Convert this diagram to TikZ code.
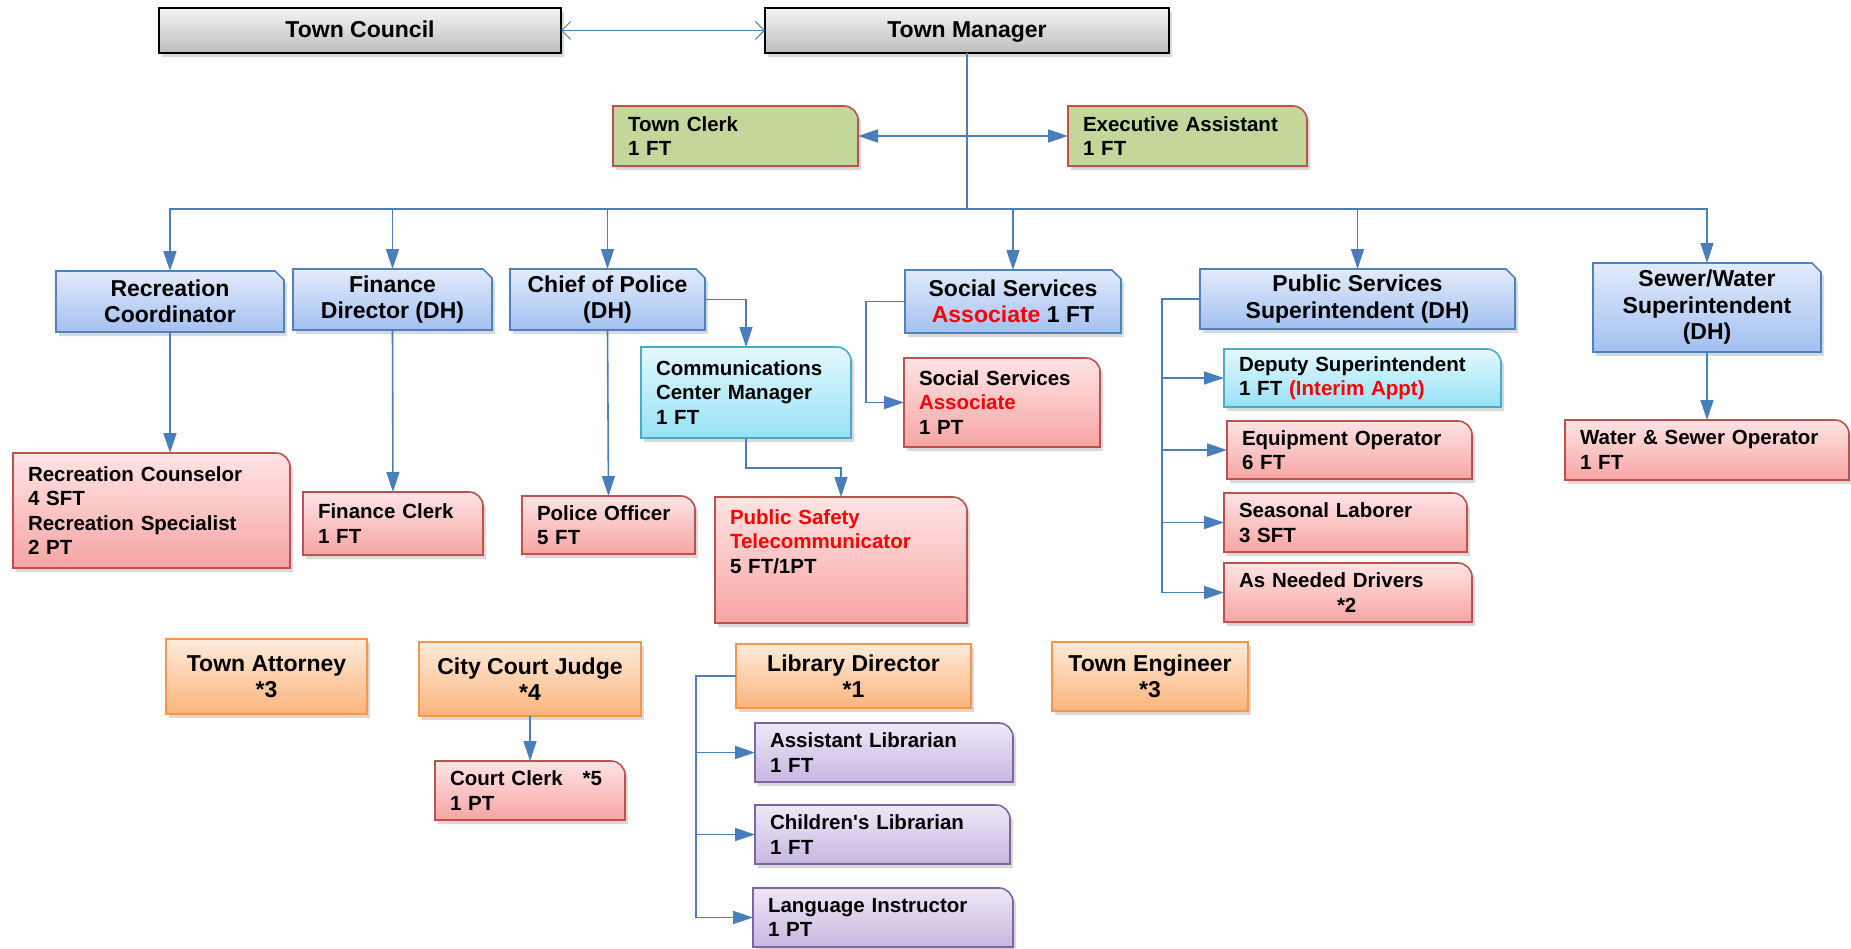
\documentclass[tikz,border=0pt]{standalone}
\usepackage{fontspec}
\setmainfont{Liberation Sans}
\usetikzlibrary{arrows.meta,shadows}
\hyphenpenalty=10000

\definecolor{linkblue}{HTML}{4A7EBB}
\definecolor{headtop}{HTML}{F4F4F4}
\definecolor{headbot}{HTML}{BDBDBD}
\definecolor{deptline}{HTML}{4F81BD}
\definecolor{depttop}{HTML}{E2EBFB}
\definecolor{deptbot}{HTML}{A3C0F1}
\definecolor{staffline}{HTML}{C0504D}
\definecolor{stafftop}{HTML}{FFE4E4}
\definecolor{staffbot}{HTML}{F6A5A4}
\definecolor{leadline}{HTML}{4BACC6}
\definecolor{leadtop}{HTML}{E4F8FD}
\definecolor{leadbot}{HTML}{96E2F6}
\definecolor{aidefill}{HTML}{C4D79B}
\definecolor{advline}{HTML}{F79646}
\definecolor{advtop}{HTML}{FEEBDB}
\definecolor{advbot}{HTML}{FBB47C}
\definecolor{libline}{HTML}{8064A2}
\definecolor{libtop}{HTML}{EEE8F6}
\definecolor{libbot}{HTML}{C7B7E1}

% box with one rounded (or snipped) top right corner
\makeatletter
\pgfdeclareshape{tabbox}{
  \inheritsavedanchors[from=rectangle]
  \inheritanchorborder[from=rectangle]
  \inheritanchor[from=rectangle]{center}
  \inheritanchor[from=rectangle]{north}
  \inheritanchor[from=rectangle]{south}
  \inheritanchor[from=rectangle]{east}
  \inheritanchor[from=rectangle]{west}
  \inheritanchor[from=rectangle]{north east}
  \inheritanchor[from=rectangle]{north west}
  \inheritanchor[from=rectangle]{south east}
  \inheritanchor[from=rectangle]{south west}
  \backgroundpath{
    \southwest \edef\tab@xa{\the\pgf@x}\edef\tab@ya{\the\pgf@y}
    \northeast \edef\tab@xb{\the\pgf@x}\edef\tab@yb{\the\pgf@y}
    \pgfpathmoveto{\pgfpoint{\tab@xa}{\tab@ya}}
    \pgfpathlineto{\pgfpoint{\tab@xa}{\tab@yb}}
    \pgfpathlineto{\pgfpoint{\tab@xb-\tabsize}{\tab@yb}}
    \pgfpathcurveto{\pgfpoint{\tab@xb-\tabsize+\tabbend*\tabsize}{\tab@yb}}
      {\pgfpoint{\tab@xb}{\tab@yb-\tabsize+\tabbend*\tabsize}}
      {\pgfpoint{\tab@xb}{\tab@yb-\tabsize}}
    \pgfpathlineto{\pgfpoint{\tab@xb}{\tab@ya}}
    \pgfpathclose
  }
}
\makeatother
\tikzset{tab size/.store in=\tabsize, tab bend/.store in=\tabbend, tab size=14pt, tab bend=0.552}

\tikzstyle{chartbox}=[outer sep=0pt, line width=1.6pt, drop shadow={shadow xshift=3pt,shadow yshift=-4pt,opacity=0.3}]
\tikzstyle{bigtext}=[font=\bfseries\fontsize{23}{26.5}\selectfont, align=center]
\tikzstyle{smalltext}=[font=\bfseries\fontsize{20.5}{24.5}\selectfont, align=left, inner xsep=15pt, inner ysep=2pt]
\tikzstyle{headbox}=[chartbox, bigtext, rectangle, draw=black, top color=headtop, bottom color=headbot, text height=17pt, text depth=3pt]
\tikzstyle{deptbox}=[chartbox, bigtext, shape=tabbox, tab size=9pt, tab bend=0, draw=deptline, top color=depttop, bottom color=deptbot]
\tikzstyle{staffbox}=[chartbox, smalltext, shape=tabbox, draw=staffline, top color=stafftop, bottom color=staffbot]
\tikzstyle{leadbox}=[chartbox, smalltext, shape=tabbox, draw=leadline, top color=leadtop, bottom color=leadbot]
\tikzstyle{aidebox}=[chartbox, smalltext, shape=tabbox, draw=staffline, fill=aidefill]
\tikzstyle{advisorbox}=[chartbox, bigtext, rectangle, draw=advline, top color=advtop, bottom color=advbot]
\tikzstyle{librarybox}=[chartbox, smalltext, shape=tabbox, draw=libline, top color=libtop, bottom color=libbot]
\tikzstyle{trunk}=[draw=linkblue, line width=1.6pt]
\tikzstyle{link}=[trunk, -{Triangle[length=20pt,width=13pt]}]
\tikzstyle{twoway}=[trunk, {Triangle[length=20pt,width=13pt]}-{Triangle[length=20pt,width=13pt]}]
\tikzstyle{peer}=[draw=linkblue, line width=1pt, {Straight Barb[length=9pt,width=18pt]}-{Straight Barb[length=9pt,width=18pt]}]

\begin{document}
\begin{tikzpicture}[x=1pt,y=-1pt]

    \useasboundingbox (0,0) rectangle (1851,948);

    % council and manager
    \foreach \x/\y/\w/\h/\name/\txt in {159/8/402/45/council/{Town Council}, 765/8/404/45/manager/{Town Manager}}
        \node[headbox, anchor=north west, minimum width=\w, minimum height=\h] (\name) at (\x,\y) {\txt};

    \foreach \x/\y/\w/\h/\name/\txt in {613/106/245/60/clerk/{Town Clerk\\1 FT}, 1068/106/239/60/execasst/{Executive Assistant\\1 FT}}
        {\pgfmathsetmacro\tw{\w-30}
        \node[aidebox, anchor=north west, minimum width=\w, minimum height=\h, text width=\tw pt] (\name) at (\x,\y) {\txt};}

    % departments
    \foreach \x/\y/\w/\h/\name/\txt in {56/271/228/61/reccoord/{Recreation\\Coordinator},
        293/269/199/61/findir/{Finance\\Director (DH)}, 510/269/195/61/police/{Chief of Police\\(DH)},
        905/270/216/63/socsvc/{Social Services\\\textcolor{red}{Associate} 1 FT},
        1200/269/315/60/pubsvc/{Public Services\\Superintendent (DH)},
        1593/263/228/89/sewer/{Sewer/Water\\Superintendent\\(DH)}}
        \node[deptbox, anchor=north west, minimum width=\w, minimum height=\h] (\name) at (\x,\y) {\txt};

    \foreach \x/\y/\w/\h/\name/\txt in {641/347/210/91/comms/{Communications\\Center Manager\\1 FT},
        1224/349/277/58/deputy/{Deputy Superintendent\\1 FT \textcolor{red}{(Interim Appt)}}}
        {\pgfmathsetmacro\tw{\w-30}
        \node[leadbox, anchor=north west, minimum width=\w, minimum height=\h, text width=\tw pt] (\name) at (\x,\y) {\txt};}

    % staff
    \foreach \x/\y/\w/\h/\name/\txt in {13/453/277/115/reccouns/{Recreation Counselor\\4 SFT\\Recreation Specialist\\2 PT},
        303/492/180/63/finclerk/{Finance Clerk\\1 FT}, 522/496/173/58/officer/{Police Officer\\5 FT},
        715/497/252/126/pubsafety/{\textcolor{red}{Public Safety}\\\textcolor{red}{Telecommunicator}\\5 FT/1PT\\[6pt]\strut},
        904/358/196/89/socassoc/{Social Services\\\textcolor{red}{Associate}\\1 PT},
        1227/421/245/58/equip/{Equipment Operator\\6 FT}, 1224/493/243/59/seasonal/{Seasonal Laborer\\3 SFT},
        1224/563/248/59/drivers/{As Needed Drivers\\\hspace*{98pt}*2},
        1565/420/284/60/wsop/{Water \& Sewer Operator\\1 FT},
        435/761/190/59/courtclerk/{Court Clerk\hspace{20pt}*5\\1 PT}}
        {\pgfmathsetmacro\tw{\w-30}
        \node[staffbox, anchor=north west, minimum width=\w, minimum height=\h, text width=\tw pt] (\name) at (\x,\y) {\txt};}

    % contracted / appointed
    \foreach \x/\y/\w/\h/\name/\txt in {166/639/201/75/attorney/{Town Attorney\\*3}, 419/642/222/74/judge/{City Court Judge\\*4},
        736/644/235/64/library/{Library Director\\*1}, 1052/642/196/69/engineer/{Town Engineer\\*3}}
        \node[advisorbox, anchor=north west, minimum width=\w, minimum height=\h] (\name) at (\x,\y) {\txt};

    \foreach \x/\y/\w/\h/\name/\txt in {755/723/258/59/asstlib/{Assistant Librarian\\1 FT},
        755/805/255/59/childlib/{Children\textquotesingle s Librarian\\1 FT}, 753/888/260/59/langinst/{Language Instructor\\1 PT}}
        {\pgfmathsetmacro\tw{\w-30}
        \node[librarybox, anchor=north west, minimum width=\w, minimum height=\h, text width=\tw pt] (\name) at (\x,\y) {\txt};}

    % connectors
    \path[peer] (council.east) -- (manager.west);
    \coordinate (bus) at (manager.south |- 0,209);
    \path[trunk] (manager.south) -- (bus);
    \path[twoway] (clerk.east) -- (execasst.west);

    \foreach \dest in {reccoord, findir, police, socsvc, pubsvc, sewer}
        \path[link] (bus) -| (\dest.north);

    \path[link] (reccoord.south) -- (reccoord.south |- reccouns.north);
    \foreach \source/\dest in {findir/finclerk, police/officer, sewer/wsop, judge/courtclerk}
        \path[link] (\source.south) -- (\dest.north);

    \path[link] (police.east) -| (comms.north);
    \path[link] (comms.south) -- ++(0,30) -| (pubsafety.north);
    \path[link] (socsvc.west) -- ++(-39,0) |- (socassoc.west);

    \foreach \dest in {deputy, equip, seasonal, drivers}
        \path[link] (pubsvc.west) -- ++(-38,0) |- (\dest.west);

    \foreach \dest in {asstlib, childlib, langinst}
        \path[link] (library.west) -- ++(-40,0) |- (\dest.west);

\end{tikzpicture}
\end{document}
